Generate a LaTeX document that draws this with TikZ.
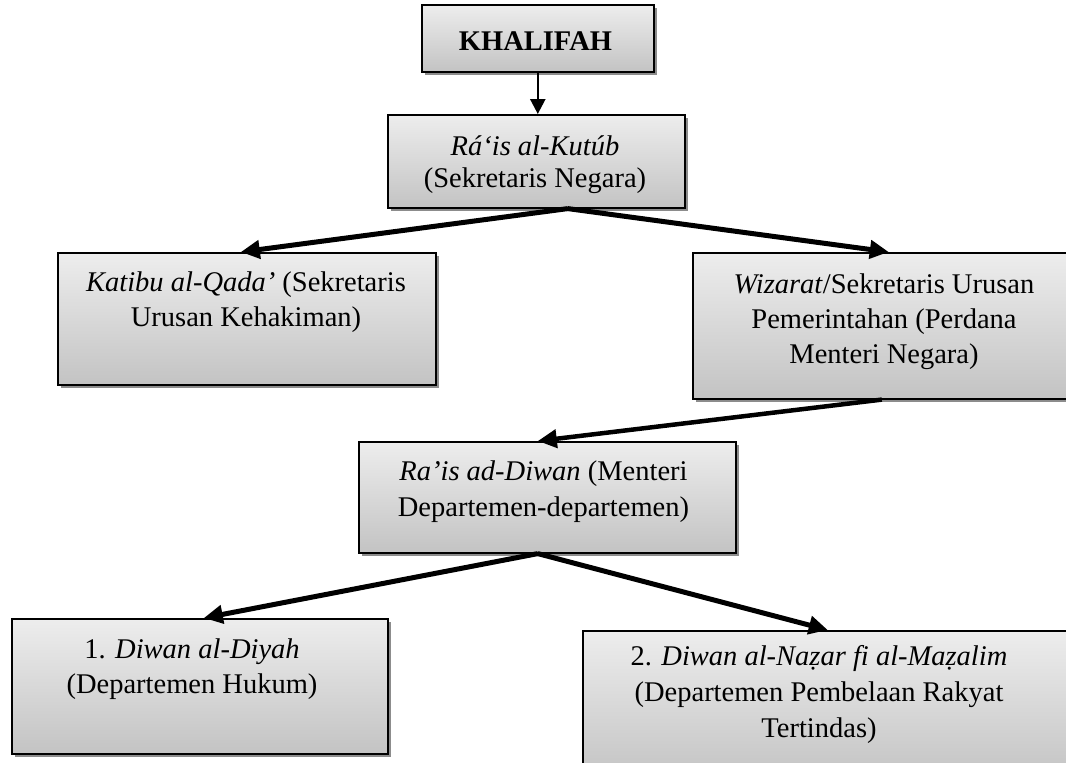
\documentclass[tikz,border=0pt]{standalone}
\usepackage{fontspec}
\setmainfont{Liberation Serif}
\usetikzlibrary{arrows.meta,shadows}
\begin{document}
\begin{tikzpicture}[x=1pt,y=-1pt,
  every node/.style={font=\fontsize{28.5}{35}\selectfont},
  box/.style={draw=black, line width=1.6pt, top color=gray!14, bottom color=gray!47,
    anchor=north west, inner sep=0pt,
    drop shadow={shadow xshift=3pt, shadow yshift=-3pt, fill=black!45, opacity=1}},
  lbl/.style={anchor=base, inner sep=0pt},
  thinarrow/.style={line width=2.5pt, -{Triangle[length=15pt,width=15pt]}},
  thickarrow/.style={line width=5pt, -{Triangle[length=19pt,width=18pt]}},
]
\path[use as bounding box, clip] (0,0) rectangle (1066,763);

% boxes
\node[box, minimum width=232pt, minimum height=67pt]  (khalifah) at (421,4) {};
\node[box, minimum width=297pt, minimum height=93pt]  (rais)     at (387,114) {};
\node[box, minimum width=378pt, minimum height=132pt] (katibu)   at (57,252) {};
\node[box, minimum width=392pt, minimum height=146pt] (wizarat)  at (692,252) {};
\node[box, minimum width=377pt, minimum height=111pt] (diwan)    at (358,441) {};
\node[box, minimum width=376pt, minimum height=135pt] (diyah)    at (11,618) {};
\node[box, minimum width=488pt, minimum height=150pt] (nazar)    at (582,630) {};

% texts
\node[lbl] (tkhalifah) at (535.5,50) {\textbf{KHALIFAH}};
\node[lbl] (trais) at (535,155.5) {\parbox[t]{320pt}{\centering\fontsize{28.5}{32}\selectfont
  \textit{Rá‘is al-Kutúb}\\(Sekretaris Negara)}};
\node[lbl] (tkatibu) at (246,291.7) {\parbox[t]{380pt}{\centering\fontsize{28.5}{35}\selectfont
  \textit{Katibu al-Qada’} (Sekretaris\\Urusan Kehakiman)}};
\node[lbl] (twizarat) at (884,293) {\parbox[t]{380pt}{\centering\fontsize{28.5}{35}\selectfont
  \textit{Wizarat}/Sekretaris Urusan\\Pemerintahan (Perdana\\Menteri Negara)}};
\node[lbl] (tdiwan) at (543.5,480) {\parbox[t]{380pt}{\centering\fontsize{28.5}{36.5}\selectfont
  \textit{Ra’is ad-Diwan} (Menteri\\Departemen-departemen)}};
\node[lbl] (tdiyah) at (192,658) {\parbox[t]{380pt}{\centering\fontsize{28.5}{35}\selectfont
  1. \textit{Diwan al-Diyah}\\(Departemen Hukum)}};
\node[lbl] (tnazar) at (819,665) {\parbox[t]{460pt}{\centering\fontsize{28.5}{36}\selectfont
  2. \textit{Diwan al-Naẓar fi al-Maẓalim}\\(Departemen Pembelaan Rakyat\\Tertindas)}};

% connectors
\draw[thinarrow] (khalifah.south) -- (khalifah.south |- rais.north);
\draw[thickarrow] ([xshift=31.5pt]rais.south) -- ([xshift=-6pt]katibu.north);
\draw[thickarrow] ([xshift=31.5pt]rais.south) -- (wizarat.north);
\draw[thickarrow, line width=4.5pt] ([xshift=-7pt]wizarat.south) -- ([xshift=-9.5pt]diwan.north);
\draw[thickarrow] ([xshift=-9.5pt]diwan.south) -- ([xshift=4pt]diyah.north);
\draw[thickarrow] ([xshift=-9.5pt]diwan.south) -- ([xshift=1pt]nazar.north);
\end{tikzpicture}
\end{document}
